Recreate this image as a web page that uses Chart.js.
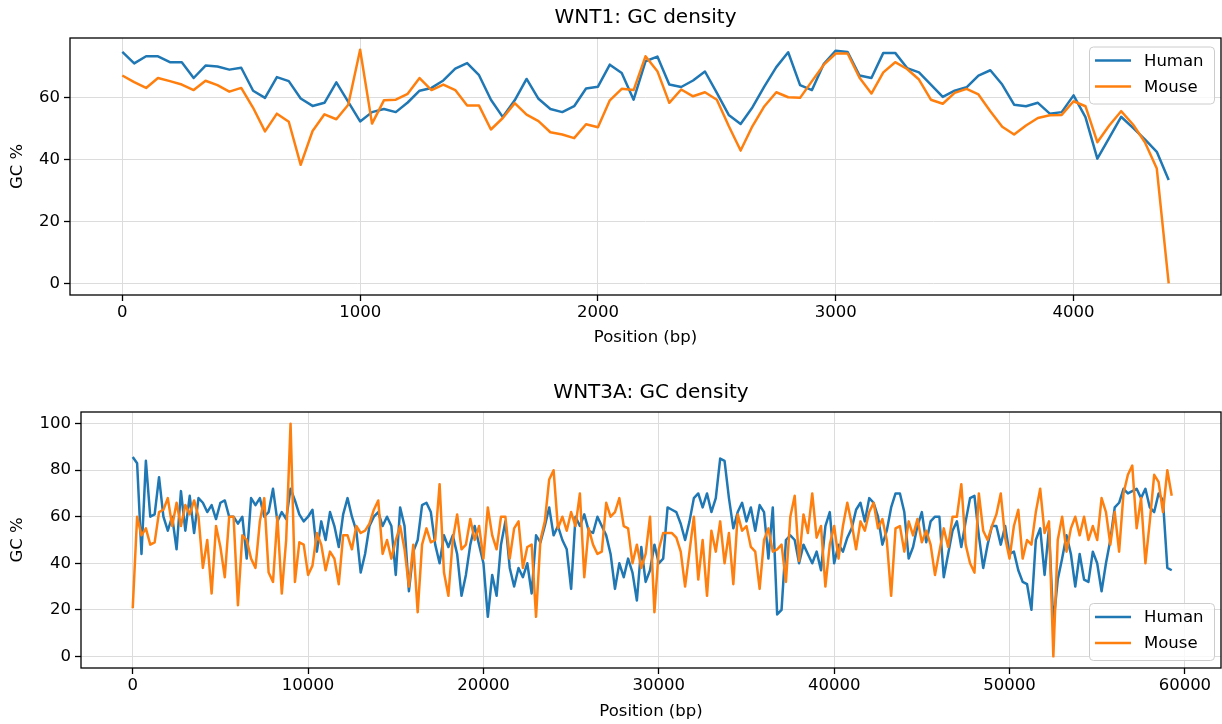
<!DOCTYPE html>
<html><head><meta charset="utf-8">
<script src="https://cdn.jsdelivr.net/npm/chart.js@4.4.0/dist/chart.umd.min.js"></script>
<style>
html,body{margin:0;padding:0;background:#fff;}
#wrap{position:relative;width:1222px;height:724px;}
#c1{position:absolute;left:0;top:0;}
#c2{position:absolute;left:0;top:360px;}
</style></head><body>
<div id="wrap"><canvas id="c1" width="1222" height="360"></canvas><canvas id="c2" width="1222" height="364"></canvas></div>
<script>
// ---------- data ----------
const wnt1Start = 0, wnt1Step = 50;
const wnt1Human = [74.6,70.9,73.2,73.2,71.3,71.3,66.2,70.2,69.9,68.9,69.5,62.1,59.8,66.5,65.2,59.6,57.2,58.2,64.8,58.5,
52.2,55.2,56.2,55.2,58.3,62.1,63.0,65.4,69.2,71.0,67.1,59.2,53.6,59.0,65.9,59.5,56.2,55.2,57.1,62.8,
63.4,70.5,67.8,59.2,71.6,73.1,64.1,63.3,65.4,68.3,61.4,54.3,51.4,56.8,63.5,69.7,74.5,63.9,62.3,70.8,
75.0,74.6,67.0,66.2,74.3,74.3,69.4,68.0,64.1,60.1,62.1,63.2,67.0,68.7,64.1,57.6,57.1,58.2,54.7,55.2,
60.6,53.6,40.2,46.9,53.7,50.1,46.4,42.4,33.3];
const wnt1Mouse = [67.0,64.9,63.0,66.2,65.2,64.1,62.3,65.3,63.9,61.8,63.0,56.6,49.0,54.7,52.1,38.2,49.1,54.5,52.9,57.6,
75.3,51.5,59.0,59.2,61.1,66.2,62.3,64.1,62.3,57.3,57.3,49.6,53.3,58.1,54.4,52.3,48.7,48.0,46.8,51.3,
50.3,59.0,62.7,62.3,73.2,68.4,58.2,62.5,60.3,61.6,59.2,50.7,42.8,50.7,57.1,61.6,60.0,59.8,65.2,70.5,
74.1,74.1,66.3,61.2,68.0,71.3,69.1,65.7,59.2,57.9,61.4,62.7,60.9,55.5,50.5,48.0,50.9,53.3,54.2,54.3,
58.7,57.1,45.5,50.9,55.5,51.2,45.5,37.0,0.0];

const wnt3aStart = 0, wnt3aStep = 250;
const wnt3aHuman = [
85.7,83,44,84,60,61,77,60,54,60,46,71,54,69,53,68,66,62,65,59,66,67,60,60,57,60,42,68,
65,68,60,62,72,58,62,59,72,67,61,58,60,63,45,58,50,62,56,47,61,68,60,54,36,44,56,60,
62,56,60,56,35,64,56,28,45,50,65,66,62,48,40,52,47,52,44,26,35,48,56,48,40,17,35,26,48,
58,38,30,38,34,40,27,52,49,56,64,52,56,50,46,29,60,56,61,54,53,60,56,52,44,29,40,34,
42,36,24,47,32,37,48,40,42,64,63,62,57,50,58,68,70,64,70,62,68,85,84,68,55,62,66,58,64,54,65,
62,42,64,18,20,50,52,50,40,48,44,40,45,37,56,62,40,48,45,51,55,63,66,58,68,66,60,48,54,64,70,
70,62,42,47,56,62,49,58,60,60,34,44,54,58,47,58,68,69,52,38,48,56,56,48,56,44,45,37,32,31,20,50,55,
35,55,14,33,42,52,44,30,44,33,32,45,40,28,40,50,64,66,72,70,71,72,68,72,64,62,70,67,38,37];
const wnt3aMouse = [
20.7,60,52,55,48,49,62,63,68,56,66,56,65,61,67,60,38,50,27,56,47,34,60,60,22,52,50,42,
38,58,68,36,32,60,27,50,100,32,49,48,35,39,53,48,37,45,42,31,52,52,46,56,53,54,57,63,
67,44,50,42,50,56,46,30,48,19,48,55,49,50,74,36,26,50,61,46,48,59,50,56,42,64,52,46,60,
60,42,55,58,38,47,48,17,50,58,76,80,55,60,54,62,56,70,34,55,48,44,45,66,60,62,68,56,
55,40,48,38,44,60,19,46,53,53,53,51,45,30,45,60,33,50,26,54,45,58,40,53,31,61,54,56,47,45,29,
50,55,45,46,48,32,60,69,41,61,53,70,51,56,30,48,56,42,56,66,57,46,58,54,62,66,55,59,50,26,55,
56,45,58,52,59,49,54,48,35,45,55,47,60,60,74,48,40,36,70,54,50,56,61,70,51,42,56,63,42,50,48,62,72,
53,58,0,50,60,45,55,60,52,60,50,56,50,68,62,48,62,45,70,78,82,55,68,40,58,78,75,62,80,69];

const wnt1XTicks = [0,1000,2000,3000,4000];
const wnt1YTicks = [0,20,40,60];
const wnt3aXTicks = [0,10000,20000,30000,40000,50000,60000];
const wnt3aYTicks = [0,20,40,60,80,100];
const seriesNames = ['Human','Mouse'];
const chartTitles = ['WNT1: GC density','WNT3A: GC density'];
const xAxisLabel = 'Position (bp)';
const yAxisLabel = 'GC %';

// ---------- rendering ----------
const FONT = "'DejaVu Sans', 'Liberation Sans', sans-serif";
Chart.defaults.font.family = FONT;
Chart.defaults.color = '#000';

function toPoints(start, step, vals){ return vals.map((v,i)=>({x:start+i*step, y:v})); }

const mplFrame = {
  id:'mplFrame',
  afterDraw(chart, args, opts){
    const ctx = chart.ctx, a = chart.chartArea;
    ctx.save();
    ctx.strokeStyle = '#000'; ctx.lineWidth = 1.3;
    ctx.strokeRect(a.left, a.top, a.right-a.left, a.bottom-a.top);
    const w = 125, h = 57;
    const x = a.right - 7 - w;
    const y = opts.corner === 'top' ? a.top + 8.5 : a.bottom - 8 - h;
    ctx.beginPath();
    if (ctx.roundRect) ctx.roundRect(x+0.5, y+0.5, w, h, 4); else ctx.rect(x+0.5,y+0.5,w,h);
    ctx.fillStyle = 'rgba(255,255,255,0.8)'; ctx.fill();
    ctx.strokeStyle = '#cccccc'; ctx.lineWidth = 1; ctx.stroke();
    chart.data.datasets.forEach((ds,i)=>{
      const ly = y + 14 + i*26;
      ctx.beginPath(); ctx.moveTo(x+6, ly); ctx.lineTo(x+42, ly);
      ctx.strokeStyle = ds.borderColor; ctx.lineWidth = 2.5; ctx.lineCap='butt'; ctx.stroke();
      ctx.fillStyle = '#000'; ctx.font = "16.5px " + FONT;
      ctx.textAlign='left'; ctx.textBaseline='middle';
      ctx.fillText(ds.label, x+55, ly+1);
    });
    ctx.restore();
  }
};

function makeChart(canvas, c){
  return new Chart(canvas, {
    type:'line',
    data:{datasets:[
      {label:seriesNames[0], data:c.human, borderColor:'#1f77b4', borderWidth:2.5, pointRadius:0, tension:0, borderJoinStyle:'round', order:1},
      {label:seriesNames[1], data:c.mouse, borderColor:'#ff7f0e', borderWidth:2.5, pointRadius:0, tension:0, borderJoinStyle:'round', order:0}
    ]},
    options:{
      responsive:false, animation:false, events:[],
      layout:{padding:{left:0,right:1,top:0,bottom:0}},
      plugins:{
        legend:{display:false}, tooltip:{enabled:false},
        title:{display:true, fullSize:false, text:c.title, color:'#000', font:{size:20, weight:'normal', family:FONT}, padding:c.titlePad},
        mplFrame:{corner:c.corner}
      },
      scales:{
        x:{type:'linear', min:c.xMin, max:c.xMax,
          afterBuildTicks:s=>{ s.ticks = c.xTicks.map(v=>({value:v})); },
          afterFit:s=>{ s.height = c.xHeight; },
          ticks:{callback:v=>String(v), color:'#000', font:{size:16.5}, padding:2, maxRotation:0, autoSkip:false},
          grid:{color:'#dcdcdc', lineWidth:1, tickColor:'#000', tickLength:6, tickWidth:1.3, drawTicks:true},
          border:{display:false},
          title:{display:true, text:xAxisLabel, color:'#000', font:{size:16.5}, padding:{top:0,bottom:c.xTitlePad}}
        },
        y:{type:'linear', min:c.yMin, max:c.yMax,
          afterBuildTicks:s=>{ s.ticks = c.yTicks.map(v=>({value:v})); },
          afterFit:s=>{ s.width = c.yWidth; },
          ticks:{callback:v=>String(v), color:'#000', font:{size:16.5}, padding:4, autoSkip:false},
          grid:{color:'#dcdcdc', lineWidth:1, tickColor:'#000', tickLength:6, tickWidth:1.3, drawTicks:true},
          border:{display:false},
          title:{display:true, text:yAxisLabel, color:'#000', font:{size:16.5}, padding:{top:8,bottom:0}}
        }
      }
    },
    plugins:[mplFrame]
  });
}

makeChart(document.getElementById('c1'), {
  human: toPoints(wnt1Start, wnt1Step, wnt1Human),
  mouse: toPoints(wnt1Start, wnt1Step, wnt1Mouse),
  xMin:-220, xMax:4620, yMin:-3.77, yMax:79.1,
  xTicks:wnt1XTicks, yTicks:wnt1YTicks,
  yWidth:70, xHeight:65, title:chartTitles[0],
  titlePad:{top:6,bottom:8}, xTitlePad:12, corner:'top'
});
makeChart(document.getElementById('c2'), {
  human: toPoints(wnt3aStart, wnt3aStep, wnt3aHuman),
  mouse: toPoints(wnt3aStart, wnt3aStep, wnt3aMouse),
  xMin:-2950, xMax:62060, yMin:-5, yMax:105,
  xTicks:wnt3aXTicks, yTicks:wnt3aYTicks,
  yWidth:81, xHeight:56, title:chartTitles[1],
  titlePad:{top:21,bottom:7}, xTitlePad:2, corner:'bottom'
});
</script>
</body></html>
